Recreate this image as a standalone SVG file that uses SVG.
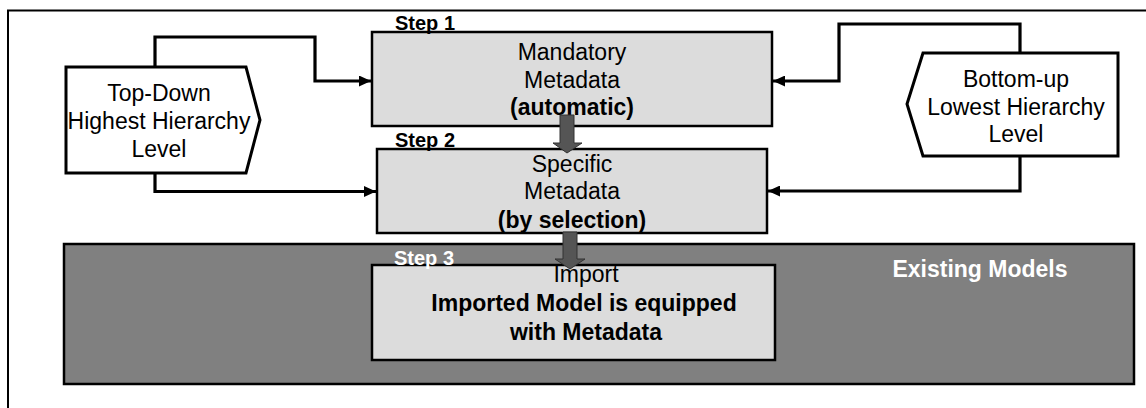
<svg xmlns="http://www.w3.org/2000/svg" width="1146" height="408" viewBox="0 0 1146 408">
<style>
text{font-family:"Liberation Sans",Arial,sans-serif;fill:#000}
.t{font-size:23px;text-anchor:middle}
.b{font-weight:bold}
.s{font-size:20px;font-weight:bold}
.box{fill:#dcdcdc;stroke:#000;stroke-width:2.5}
.pent{fill:#fff;stroke:#000;stroke-width:3;stroke-linejoin:miter}
.con{fill:none;stroke:#000;stroke-width:3.2;marker-end:url(#ah)}
.blk{fill:#555;stroke:#333;stroke-width:1}
</style>
<defs>
<marker id="ah" markerUnits="userSpaceOnUse" markerWidth="13" markerHeight="11" refX="12" refY="5.5" orient="auto">
<path d="M0,0 L12,5.5 L0,11 Z" fill="#000"/>
</marker>
</defs>
<rect x="8" y="10.5" width="1150" height="410" fill="#fff" stroke="#000" stroke-width="2"/>
<g id="existing-models">
<rect x="64" y="244" width="1070" height="140" fill="#808080" stroke="#000" stroke-width="2.5"/>
<text class="t b" x="980" y="277" fill="#fff" style="fill:#fff">Existing Models</text>
</g>
<g id="step3">
<rect class="box" x="372" y="265" width="403" height="95"/>
<text class="s" x="394" y="265" style="fill:#fff">Step 3</text>
<text class="t" x="586" y="282">Import</text>
<text class="t b" x="584" y="311">Imported Model is equipped</text>
<text class="t b" x="586" y="340">with Metadata</text>
</g>
<g id="top-down">
<polygon class="pent" points="66,67 246,67 260,120 246,173 66,173"/>
<text class="t" x="159" y="101">Top-Down</text>
<text class="t" x="159" y="129">Highest Hierarchy</text>
<text class="t" x="159" y="157">Level</text>
</g>
<g id="bottom-up">
<polygon class="pent" points="923,53 1118,53 1118,156 923,156 907,104"/>
<text class="t" x="1016" y="87">Bottom-up</text>
<text class="t" x="1016" y="115">Lowest Hierarchy</text>
<text class="t" x="1016" y="142">Level</text>
</g>
<g id="step1">
<rect class="box" x="372" y="32" width="400" height="94"/>
<text class="s" x="395" y="30">Step 1</text>
<text class="t" x="572" y="60">Mandatory</text>
<text class="t" x="572" y="88">Metadata</text>
<text class="t b" x="572" y="115">(automatic)</text>
</g>
<g id="step2">
<rect class="box" x="377" y="149" width="390" height="84"/>
<text class="s" x="395" y="147">Step 2</text>
<text class="t" x="572" y="172">Specific</text>
<text class="t" x="572" y="199">Metadata</text>
<text class="t b" x="572" y="228">(by selection)</text>
</g>
<g id="connectors">
<path class="con" d="M155,67 V37 H315 V81 H371"/>
<path class="con" d="M155,173 V191.5 H376"/>
<path class="con" d="M1020,53 V24 H839 V81 H773"/>
<path class="con" d="M1020,156 V191 H768"/>
<path class="blk" d="M560,115 H574 V143 H582 L567,153 L553,143 H560 Z"/>
<path class="blk" d="M563,232 H577 V259 H585 L570,269 L555,259 H563 Z"/>
</g>
</svg>
